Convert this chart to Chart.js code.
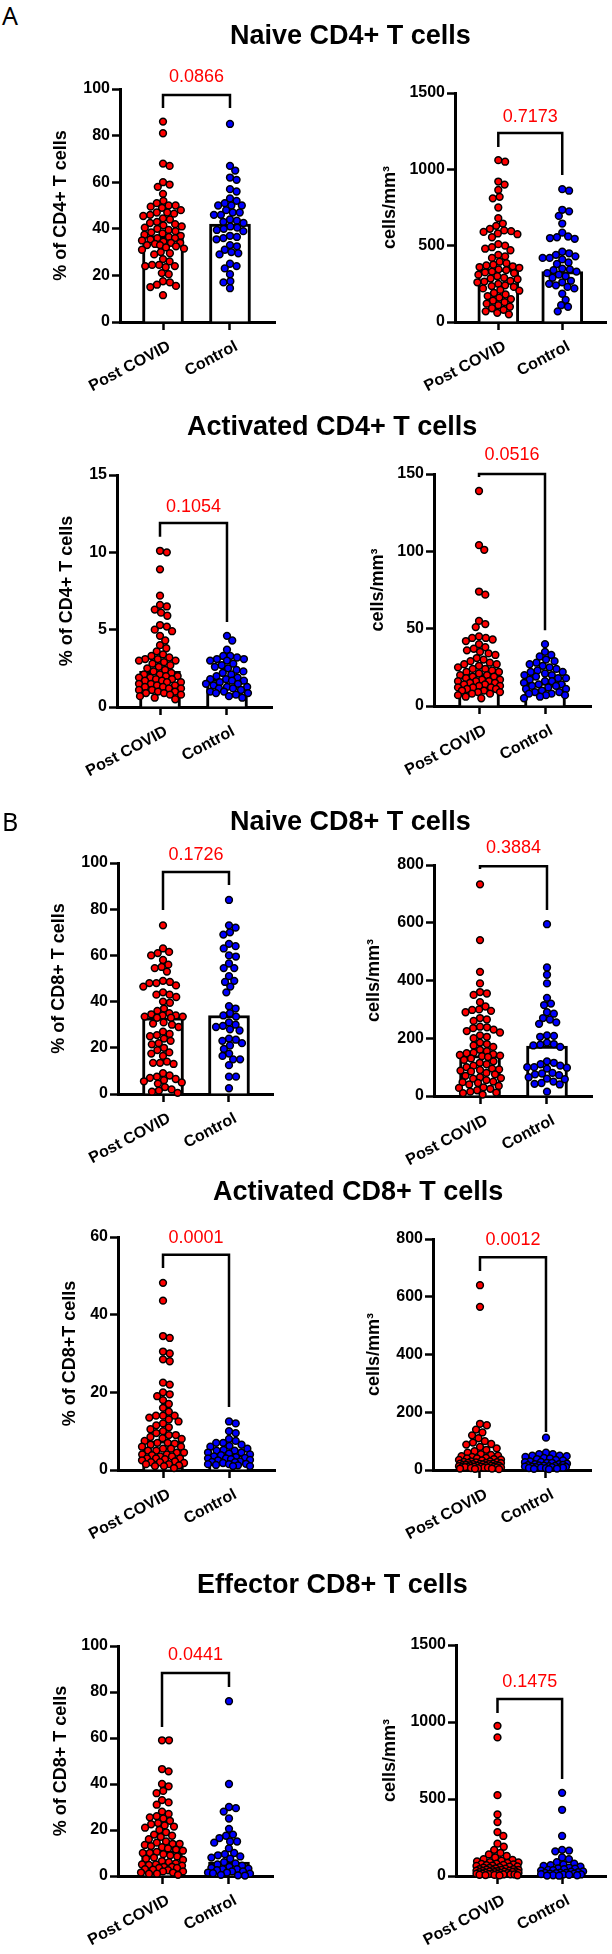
<!DOCTYPE html>
<html><head><meta charset="utf-8">
<script src="https://cdn.jsdelivr.net/npm/chart.js@4"></script>
<style>
html,body{margin:0;padding:0;background:#fff;}
body{width:612px;height:1954px;position:relative;overflow:hidden;font-family:"Liberation Sans",Arial,sans-serif;}
.title{position:absolute;font-weight:bold;font-size:27px;line-height:27px;white-space:nowrap;color:#000;z-index:2;}
.letter{position:absolute;font-family:"Noto Sans",sans-serif;font-size:25px;line-height:25px;color:#000;z-index:2;}
canvas{position:absolute;}
</style></head><body>
<div class="letter" style="left:2px;top:3px;">A</div>
<div class="letter" style="left:2px;top:809px;">B</div>
<div class="title" style="left:230px;top:22px;">Naive CD4+ T cells</div>
<div class="title" style="left:187px;top:413px;">Activated CD4+ T cells</div>
<div class="title" style="left:230px;top:808px;">Naive CD8+ T cells</div>
<div class="title" style="left:213px;top:1178px;">Activated CD8+ T cells</div>
<div class="title" style="left:197px;top:1571px;">Effector CD8+ T cells</div>
<script>
const categories = ["Post COVID", "Control"];

// Naive CD4+ %
const naiveCD4PctPost = [86,81,68,67,60,59,58,55,52,51,50,50,49.5,49,48,47,47,46.5,46,45.5,44.5,44,43,42.5,42,41.5,41,40.5,40,39.5,39,38.5,38,37.5,37,36.5,36,36,35.5,35,34.5,34,34,33.5,33,33,32.5,32,31.5,31,30,29.5,29,27,26,24.5,24.5,24,24,23.5,21,20.5,17.5,17,16,15.5,15,11.5];
const naiveCD4PctCtrl = [85,67,65,62,61,57,56,53,52,51,50,50,50,48,47,47,46,46,44,43.5,43,42.5,41,40.5,40,39.5,39,37,36.5,36,35.5,33,32.5,31,30,29.5,29,25,24,23,20.5,17.5,17,14.5];
const naiveCD4PctBars = [37, 42];
const naiveCD4PctTicks = [0,20,40,60,80,100];

// Naive CD4+ cells/mm3
const naiveCD4AbsPost = [1060,1050,920,900,865,820,810,750,680,645,630,610,600,595,590,580,575,555,510,500,490,480,470,440,430,420,395,385,375,370,365,360,355,345,340,330,325,320,310,300,290,285,280,270,265,260,250,240,235,230,220,210,205,190,180,170,160,150,140,130,120,110,100,90,80,70,60,50];
const naiveCD4AbsCtrl = [870,860,735,725,695,645,585,560,555,550,545,460,450,440,430,420,420,410,390,380,350,345,340,330,320,310,300,290,270,260,250,240,230,220,185,145,110,100,70];
const naiveCD4AbsBars = [345, 330];
const naiveCD4AbsTicks = [0,500,1000,1500];

// Activated CD4+ %
const actCD4PctPost = [10.1,10.0,8.9,7.2,6.6,6.5,6.3,6.1,5.9,5.3,5.2,5.0,4.9,4.6,4.3,4.0,3.8,3.6,3.4,3.3,3.2,3.1,3.1,3.0,3.0,2.9,2.8,2.7,2.6,2.5,2.4,2.3,2.2,2.1,2.1,2.0,2.0,1.9,1.9,1.8,1.8,1.7,1.7,1.6,1.6,1.5,1.5,1.4,1.4,1.3,1.3,1.2,1.2,1.1,1.1,1.0,1.0,0.9,0.9,0.8,0.8,0.7,0.6,0.5];
const actCD4PctCtrl = [4.6,4.3,3.7,3.3,3.3,3.2,3.1,3.1,3.0,3.0,2.8,2.7,2.6,2.5,2.4,2.3,2.2,2.1,2.0,1.9,1.8,1.8,1.7,1.7,1.6,1.5,1.5,1.4,1.3,1.3,1.2,1.2,1.1,1.0,1.0,0.9,0.9,0.8,0.7,0.6];
const actCD4PctBars = [2.3, 1.8];
const actCD4PctTicks = [0,5,10,15];

// Activated CD4+ cells/mm3
const actCD4AbsPost = [139,104,101,74,72,55,53,51,45,44,44,43,42,40,38,37,36,35,34,33,31,30,29,28,27,27,26,25,24,24,23,22,22,21,20,20,19,19,18,17,17,16,16,16,15,15,14,14,13,13,12,12,12,11,11,10,10,9,9,8,8,7,6,5];
const actCD4AbsCtrl = [40,35,33,32,30,29,28,27,26,25,24,23,22,22,21,20,20,19,18,18,17,16,16,15,14,14,13,13,12,11,11,10,9,9,8,8,7,7,6,5];
const actCD4AbsBars = [21, 15];
const actCD4AbsTicks = [0,50,100,150];

// Naive CD8+ %
const naiveCD8PctPost = [73,63,61.5,61,60,58,56,55,54.5,53,49,48.5,48,48,47,46.5,44,43,43,42,40,39.5,37,36,35,34.5,34,34,33.5,33.5,33,33,31,30.5,30,29,27,26,25.5,25,24,23,22,21.5,20,19,18,17.5,16.5,14,13.5,13.5,13,9,8,7.5,7,6.5,6,5.5,5,4.5,3,2,1.5,1,0.5];
const naiveCD8PctCtrl = [84,73,72,70,69,65,64,63,60,59.5,56.5,54.5,54.5,51,49,48.5,46.5,44,38,37,35,34,33.5,31,30,29.5,29,28,27.5,24,23.5,23,22,21,19.5,17.5,16.5,15,15,12.5,7.5,7.5,2.5];
const naiveCD8PctBars = [33, 34];
const naiveCD8PctTicks = [0,20,40,60,80,100];

// Naive CD8+ cells/mm3
const naiveCD8AbsPost = [733,540,430,390,360,355,350,325,310,300,298,295,290,270,265,260,240,238,235,230,225,220,210,205,200,185,180,175,170,160,155,150,148,145,142,140,138,135,130,125,120,115,110,105,100,95,92,90,88,85,80,75,70,65,62,60,55,50,48,45,40,35,30,28,25,20,15,12,10,5];
const naiveCD8AbsCtrl = [595,445,420,390,340,320,315,290,285,270,265,255,250,210,208,205,185,180,178,175,170,120,115,110,105,100,100,98,95,80,78,75,72,65,60,58,50,45,42,40,15];
const naiveCD8AbsBars = [140, 173];
const naiveCD8AbsTicks = [0,200,400,600,800];

// Activated CD8+ %
const actCD8PctPost = [48.2,43.6,34.5,34,30.5,30,28.5,28,22.5,22,20,19.5,19,18,17,16,15,14,14,14,13.5,13,12.5,12,11.5,11,10.5,10,9.5,9,9,8.5,8.2,8,7.5,7,7,6.8,6.5,6,6,5.5,5.5,5,5,4.5,4.5,4,4,3.8,3.5,3.5,3,3,3,2.8,2.5,2.2,2,2,1.8,1.5,1.5,1.2,1,1,0.5];
const actCD8PctCtrl = [12.5,12,10,9.5,8,7.5,7,7,6.5,6.2,6,5.5,5.2,5,5,4.5,4.5,4.2,4,3.8,3.5,3.3,3.1,3,3,2.8,2.6,2.5,2.2,2.1,2,1.8,1.6,1.5,1.5,1.3,1.2,1,1];
const actCD8PctBars = [7.5, 4];
const actCD8PctTicks = [0,20,40,60];

// Activated CD8+ cells/mm3
const actCD8AbsPost = [640,565,160,155,140,130,120,110,100,95,90,88,80,75,70,65,60,55,52,50,48,45,42,40,40,38,36,35,33,30,30,28,27,26,25,25,24,22,22,21,20,20,19,18,18,17,16,15,15,14,14,13,12,12,11,11,10,10,9,9,8,8,7,6,5,5,4,3];
const actCD8AbsCtrl = [112,60,55,55,50,50,48,45,42,40,38,35,33,30,28,27,25,25,22,20,20,18,17,16,15,14,13,12,12,11,10,10,9,8,8,7,6,5,4,3];
const actCD8AbsBars = [30, 20];
const actCD8AbsTicks = [0,200,400,600,800];

// Effector CD8+ %
const effCD8PctPost = [59,59,46.5,45.5,40,39,37,36,33,32,31,28,27,26,25.5,25,24,23,22.5,22,21.5,21,20,19,18,17.5,17,16,15,14.5,14,14,13.5,13,12.5,12,11.5,11,10.5,10,10,9.5,9,8.5,8,7.5,7,6.5,6,5.5,5,5,4.8,4.5,4,4,3.5,3.5,3,2.8,2.5,2,2,1.5,1.5,1,1,0.5];
const effCD8PctCtrl = [76,40,30,29.5,28,25,20.5,18,17.5,16.5,15,15,14.5,12,10,9.5,9,8.5,8,7.5,6,5.5,5,4.5,4,3.5,3.2,3,3,2.5,2,2,1.5,1.5,1.2,1,0.5,0.3,0.2];
const effCD8PctBars = [11, 6];
const effCD8PctTicks = [0,20,40,60,80,100];

// Effector CD8+ cells/mm3
const effCD8AbsPost = [975,900,525,400,350,285,260,210,190,170,150,140,130,120,110,105,100,95,90,88,85,80,78,75,72,70,68,65,62,60,58,55,52,50,48,45,45,42,40,40,38,35,35,33,32,30,30,28,26,25,25,22,20,20,18,16,15,15,14,12,11,10,10,8,7,6,5,4];
const effCD8AbsCtrl = [540,430,260,170,165,160,120,110,90,80,75,70,65,60,55,50,48,45,40,38,35,30,28,25,22,20,20,18,15,15,12,10,10,8,5,5,3,2];
const effCD8AbsBars = [50, 40];
const effCD8AbsTicks = [0,500,1000,1500];

const pValues = ["0.0866","0.7173","0.1054","0.0516","0.1726","0.3884","0.0001","0.0012","0.0441","0.1475"];

const panels = [
  {post:naiveCD4PctPost, ctrl:naiveCD4PctCtrl, bars:naiveCD4PctBars, ticks:naiveCD4PctTicks, yTitle:"% of CD4+ T cells",
   geo:{col:0,L:120,R:275,T:89,B:322,tp:50,xmin:-0.642,xmax:1.672}, br:{top:97.4,left:91.8,right:91.8,text:105.2}},
  {post:naiveCD4AbsPost, ctrl:naiveCD4AbsCtrl, bars:naiveCD4AbsBars, ticks:naiveCD4AbsTicks, yTitle:"cells/mm³",
   geo:{col:306,L:455,R:609,T:93,B:322,tp:73,xmin:-0.677,xmax:1.692}, br:{top:1238,left:1146,right:963,text:1343}},
  {post:actCD4PctPost, ctrl:actCD4PctCtrl, bars:actCD4PctBars, ticks:actCD4PctTicks, yTitle:"% of CD4+ T cells",
   geo:{col:0,L:117,R:272,T:475,B:707,tp:56,xmin:-0.642,xmax:1.672}, br:{top:11.9,left:11.0,right:5.5,text:12.9}},
  {post:actCD4AbsPost, ctrl:actCD4AbsCtrl, bars:actCD4AbsBars, ticks:actCD4AbsTicks, yTitle:"cells/mm³",
   geo:{col:306,L:434,R:591,T:474,B:706,tp:61,xmin:-0.682,xmax:1.697}, br:{top:150,left:148,right:49,text:162}},
  {post:naiveCD8PctPost, ctrl:naiveCD8PctCtrl, bars:naiveCD8PctBars, ticks:naiveCD8PctTicks, yTitle:"% of CD8+ T cells",
   geo:{col:0,L:118,R:273,T:863,B:1094,tp:48,xmin:-0.682,xmax:1.667}, br:{top:96.1,left:79.7,right:90.5,text:103.5}},
  {post:naiveCD8AbsPost, ctrl:naiveCD8AbsCtrl, bars:naiveCD8AbsBars, ticks:naiveCD8AbsTicks, yTitle:"cells/mm³",
   geo:{col:306,L:434,R:592,T:865,B:1096,tp:57,xmin:-0.687,xmax:1.672}, br:{top:796,left:786,right:644,text:858}},
  {post:actCD8PctPost, ctrl:actCD8PctCtrl, bars:actCD8PctBars, ticks:actCD8PctTicks, yTitle:"% of CD8+T cells",
   geo:{col:0,L:118,R:275,T:1237,B:1470,tp:59,xmin:-0.682,xmax:1.697}, br:{top:55.4,left:52,right:16.2,text:59.7}},
  {post:actCD8AbsPost, ctrl:actCD8AbsCtrl, bars:actCD8AbsBars, ticks:actCD8AbsTicks, yTitle:"cells/mm³",
   geo:{col:306,L:433,R:591,T:1239,B:1470,tp:57,xmin:-0.712,xmax:1.682}, br:{top:737,left:689,right:132,text:796}},
  {post:effCD8PctPost, ctrl:effCD8PctCtrl, bars:effCD8PctBars, ticks:effCD8PctTicks, yTitle:"% of CD8+ T cells",
   geo:{col:0,L:118,R:273,T:1646,B:1876,tp:50,xmin:-0.657,xmax:1.657}, br:{top:88.3,left:64.8,right:82.2,text:96.1}},
  {post:effCD8AbsPost, ctrl:effCD8AbsCtrl, bars:effCD8AbsBars, ticks:effCD8AbsTicks, yTitle:"cells/mm³",
   geo:{col:306,L:456,R:612,T:1645,B:1876,tp:73,xmin:-0.642,xmax:1.687}, br:{top:1149,left:1058,right:630,text:1260}}
];

const FONT = '"Liberation Sans", Arial, sans-serif';
Chart.defaults.font.family = FONT;
Chart.defaults.color = '#000';

const bracketPlugin = {
  id: 'bracket',
  afterDatasetsDraw(chart, args, o) {
    const {ctx} = chart; const x = chart.scales.x, y = chart.scales.y;
    const x0 = x.getPixelForValue(0), x1 = x.getPixelForValue(1);
    const yt = y.getPixelForValue(o.top), yl = y.getPixelForValue(o.left), yr = y.getPixelForValue(o.right);
    ctx.save();
    ctx.strokeStyle = '#000'; ctx.lineWidth = 2.5; ctx.lineJoin = 'miter'; ctx.lineCap = 'butt';
    ctx.beginPath(); ctx.moveTo(x0, yl); ctx.lineTo(x0, yt); ctx.lineTo(x1, yt); ctx.lineTo(x1, yr); ctx.stroke();
    ctx.fillStyle = '#ff0000'; ctx.font = '18px ' + FONT; ctx.textAlign = 'center'; ctx.textBaseline = 'middle';
    ctx.fillText(o.label, (x0 + x1) / 2, y.getPixelForValue(o.text));
    ctx.restore();
  }
};

// rotated category labels under the x axis
const catLabelPlugin = {
  id: 'catLabels',
  afterDraw(chart) {
    const {ctx} = chart; const x = chart.scales.x; const B = chart.chartArea.bottom;
    ctx.save();
    ctx.font = 'bold 16px ' + FONT; ctx.fillStyle = '#000'; ctx.textAlign = 'right'; ctx.textBaseline = 'middle';
    categories.forEach((c, k) => {
      const tx = x.getPixelForValue(k);
      ctx.save(); ctx.translate(tx + 6.5, B + 23.5); ctx.rotate(-28 * Math.PI / 180); ctx.fillText(c, 0, 0); ctx.restore();
    });
    ctx.restore();
  }
};

function swarm(vals, toPix, D, maxW) {
  const idx = vals.map((v, i) => i).sort((a, b) => vals[b] - vals[a]);
  const placed = []; const off = new Array(vals.length);
  for (const i of idx) {
    const y = toPix(vals[i]);
    const near = placed.filter(p => Math.abs(p.y - y) < D);
    const cands = [0];
    near.forEach(p => { const dx = Math.sqrt(D * D - (p.y - y) ** 2); cands.push(p.x + dx, p.x - dx); });
    cands.sort((a, b) => Math.abs(a) - Math.abs(b));
    let best = null;
    for (const c of cands) {
      if (Math.abs(c) > maxW) continue;
      if (near.every(p => (p.x - c) ** 2 + (p.y - y) ** 2 >= D * D - 0.01)) { best = c; break; }
    }
    if (best === null) {
      let bestScore = -1;
      for (let c = -maxW; c <= maxW; c += 1) {
        let md = Infinity;
        near.forEach(p => { md = Math.min(md, Math.hypot(p.x - c, p.y - y)); });
        if (md > bestScore) { bestScore = md; best = c; }
      }
    }
    placed.push({x: best, y}); off[i] = best;
  }
  return off;
}

panels.forEach((p, i) => {
  const g = p.geo;
  const top = g.T - 50, h = (g.B - g.T) + 50 + 78;
  const cv = document.createElement('canvas');
  cv.width = 306; cv.height = h;
  cv.style.left = g.col + 'px'; cv.style.top = top + 'px';
  cv.style.width = '306px'; cv.style.height = h + 'px';
  document.body.appendChild(cv);
  const yW = g.L - g.col;
  const tickFont = {size: 16, weight: 'bold', family: FONT};
  const chart = new Chart(cv, {
    type: 'scatter',
    data: {datasets: [
      {type: 'bar', data: p.bars.map((v, k) => ({x: k, y: v})), backgroundColor: '#ffffff', borderColor: '#000', borderWidth: 3, barThickness: 41, order: 2},
      {type: 'scatter', data: p.post.map(v => ({x: 0, y: v})), backgroundColor: '#ff0000', borderColor: '#000', borderWidth: 1.5, pointRadius: 3.4, clip: false, order: 1},
      {type: 'scatter', data: p.ctrl.map(v => ({x: 1, y: v})), backgroundColor: '#0000ff', borderColor: '#000', borderWidth: 1.5, pointRadius: 3.4, clip: false, order: 1}
    ]},
    options: {
      responsive: false, animation: false, devicePixelRatio: 1, events: [],
      layout: {padding: {top: 50, left: 0, right: g.col + 306 - g.R, bottom: 0}},
      plugins: {legend: {display: false}, tooltip: {enabled: false},
        bracket: {top: p.br.top, left: p.br.left, right: p.br.right, text: p.br.text, label: pValues[i]}},
      scales: {
        x: {type: 'linear', min: g.xmin, max: g.xmax, offset: false,
          afterBuildTicks: s => { s.ticks = [{value: 0}, {value: 1}]; },
          afterFit: s => { s.height = 78; },
          ticks: {callback: () => '', autoSkip: false, minRotation: 0, maxRotation: 0, padding: 2, color: '#000', font: tickFont},
          grid: {display: true, drawOnChartArea: false, drawTicks: true, tickLength: 8, tickWidth: 2.5, tickColor: '#000', offset: false},
          border: {display: true, color: '#000', width: 3}},
        y: {type: 'linear', min: p.ticks[0], max: p.ticks[p.ticks.length - 1],
          afterBuildTicks: s => { s.ticks = p.ticks.map(v => ({value: v})); },
          afterFit: s => { s.width = yW; },
          ticks: {padding: 2, color: '#000', font: tickFont, callback: v => String(v)},
          grid: {display: true, drawOnChartArea: false, drawTicks: true, tickLength: 8, tickWidth: 2.5, tickColor: '#000'},
          border: {display: true, color: '#000', width: 3},
          title: {display: true, text: p.yTitle, color: '#000', font: {size: 18, weight: 'bold', family: FONT}, padding: {top: g.tp, bottom: 0}}}
      }
    },
    plugins: [bracketPlugin, catLabelPlugin]
  });
  const xs = chart.scales.x, ys = chart.scales.y;
  const ppu = xs.getPixelForValue(1) - xs.getPixelForValue(0);
  [1, 2].forEach(k => {
    const ds = chart.data.datasets[k];
    const vals = ds.data.map(d => d.y);
    const offs = swarm(vals, v => ys.getPixelForValue(v), 7, 21);
    ds.data = vals.map((v, j) => ({x: (k - 1) + offs[j] / ppu, y: v}));
  });
  chart.update('none');
});
</script>
</body></html>
